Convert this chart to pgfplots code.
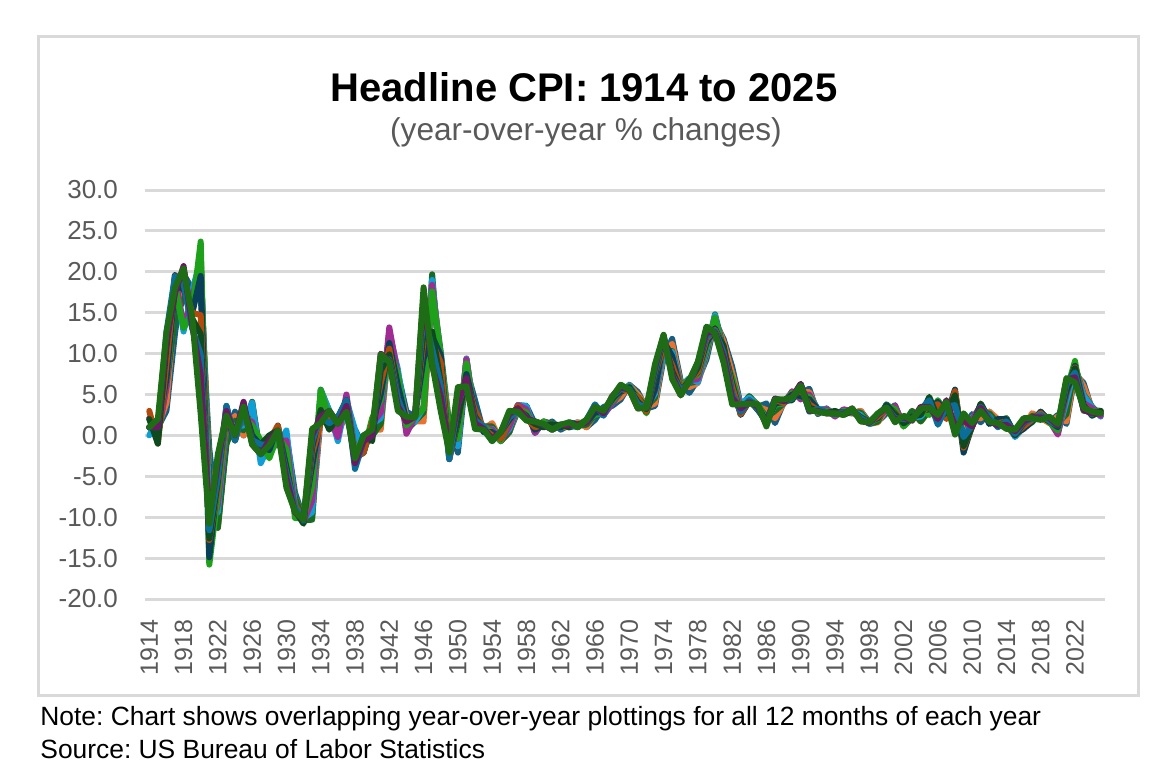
\documentclass[border=0pt]{standalone}
\usepackage{fontspec}
\setmainfont{Liberation Sans}
\usepackage{pgfplots}
\usepackage{pgfplotstable}
\pgfplotsset{compat=1.18}
\frenchspacing

\definecolor{gridgray}{HTML}{D9D9D9}
\definecolor{labelgray}{HTML}{595959}
\definecolor{cJan}{HTML}{156082}
\definecolor{cFeb}{HTML}{E97132}
\definecolor{cMar}{HTML}{196B24}
\definecolor{cApr}{HTML}{0F9ED5}
\definecolor{cMay}{HTML}{A02B93}
\definecolor{cJun}{HTML}{1FA01A}
\definecolor{cJul}{HTML}{0A3F58}
\definecolor{cAug}{HTML}{B24A0E}
\definecolor{cSep}{HTML}{0E4A1E}
\definecolor{cOct}{HTML}{0B6E99}
\definecolor{cNov}{HTML}{6C1862}
\definecolor{cDec}{HTML}{1E6C16}

% year-over-year % change, one column per month
\pgfplotstableread{
yr   m1    m2    m3    m4    m5    m6    m7    m8    m9    m10   m11   m12
1914 2.0   1.0   1.0   0.0   2.1   1.0   1.0   3.0   2.0   1.0   1.0   1.0
1915 1.0   1.0   0.0   2.0   0.0   1.0   1.0   -1.0  -1.0  1.0   1.0   2.0
1916 3.0   4.0   6.1   6.0   5.9   6.9   6.9   8.8   10.8  12.6  11.5  12.6
1917 12.5  15.4  14.3  18.9  19.6  18.3  18.3  19.0  19.6  19.5  17.4  18.1
1918 19.7  17.5  16.7  12.7  13.3  13.1  17.9  18.5  18.0  18.5  20.7  20.4
1919 17.9  14.9  17.1  17.6  16.5  15.0  14.9  15.0  14.3  13.1  13.5  14.5
1920 17.0  20.4  20.1  21.6  21.9  23.7  19.5  14.7  12.4  9.9   7.4   2.6
1921 -1.6  -4.2  -5.1  -9.3  -12.4 -15.8 -14.9 -12.8 -12.6 -11.6 -10.3 -10.8
1922 -11.1 -11.3 -11.3 -9.4  -8.5  -7.3  -5.3  -6.3  -5.7  -5.1  -3.4  -2.3
1923 -0.6  -0.6  -1.1  1.2   1.2   1.8   2.4   3.0   3.6   3.6   3.0   2.4
1924 2.9   2.4   1.8   1.2   0.6   0.0   -0.6  -0.6  -0.6  -0.6  0.0   0.0
1925 0.0   0.0   0.6   1.2   1.8   2.3   3.5   3.5   3.5   2.9   4.1   3.5
1926 3.5   4.1   4.1   4.0   1.7   1.2   0.0   -0.6  -0.6  -0.6  -1.1  -1.1
1927 -2.2  -2.8  -2.8  -3.4  -2.3  -0.6  -1.2  -1.1  -1.1  -1.1  -2.3  -2.3
1928 -1.2  -1.2  -1.7  -1.2  -1.1  -2.8  -1.8  -0.6  0.0   -1.2  -0.6  -1.2
1929 -1.2  0.0   -0.6  -1.2  -1.2  0.0   1.2   1.2   0.6   0.6   0.6   0.6
1930 0.0   -0.6  -0.6  0.6   -0.6  -1.7  -4.0  -4.6  -4.0  -4.6  -5.2  -6.4
1931 -7.0  -7.6  -7.6  -8.7  -9.3  -10.1 -9.0  -8.5  -9.2  -8.8  -9.4  -9.3
1932 -10.1 -10.2 -10.4 -10.1 -10.5 -10.1 -9.9  -10.6 -10.8 -10.4 -10.3 -10.3
1933 -9.8  -9.8  -10.3 -9.4  -8.0  -6.2  -3.7  -2.2  -1.5  -0.8  0.0   0.8
1934 2.3   3.1   5.6   5.5   4.7   5.5   2.3   1.5   3.1   2.3   2.3   1.5
1935 3.0   2.3   3.0   3.0   2.2   2.2   2.2   2.2   0.7   1.5   3.0   3.0
1936 1.5   0.7   0.0   -0.7  -0.2  1.5   1.5   2.2   2.2   2.2   1.4   1.4
1937 2.2   2.2   3.6   4.3   5.0   4.3   4.3   3.6   4.3   4.3   3.6   2.9
1938 0.7   0.0   -0.7  0.7   -2.0  -2.1  -2.8  -2.8  -3.4  -4.1  -3.4  -2.8
1939 -1.4  -1.4  -0.7  -2.1  -1.4  -2.1  -2.1  -2.1  0.0   -0.7  -0.7  0.0
1940 0.0   0.7   0.0   1.4   1.4   2.1   1.4   1.4   -0.7  0.0   0.0   0.7
1941 1.4   0.7   1.4   2.1   2.8   4.3   5.0   6.4   7.9   9.3   10.0  9.9
1942 11.3  12.0  12.6  12.5  13.2  10.7  11.3  10.6  9.9   9.3   9.1   9.0
1943 7.6   6.8   7.4   8.1   7.4   7.4   6.1   4.5   4.5   4.5   3.6   3.0
1944 2.9   2.3   0.6   1.2   0.2   1.2   1.8   1.7   1.7   1.7   1.7   2.3
1945 2.3   1.7   1.7   1.7   2.3   2.3   2.3   2.3   2.3   2.3   2.3   2.2
1946 2.2   1.7   2.8   3.4   3.4   3.3   9.4   11.6  12.7  14.9  17.0  18.1
1947 18.1  18.7  19.7  19.0  18.4  17.6  12.1  11.4  12.7  10.6  8.5   8.8
1948 10.2  9.3   6.8   8.7   9.3   9.9   9.8   8.9   6.5   6.1   4.8   3.0
1949 1.3   1.3   1.7   0.4   -0.4  0.4   -2.9  -2.9  -2.5  -2.9  -1.7  -2.1
1950 -2.1  -1.3  -0.8  -1.3  -0.4  -0.4  1.7   2.1   2.1   3.8   3.8   5.9
1951 8.1   9.4   9.3   9.4   9.3   8.8   7.5   6.6   7.0   6.6   7.0   6.0
1952 4.3   2.3   1.9   2.3   1.9   2.3   3.1   3.1   2.3   1.9   1.5   0.8
1953 0.4   0.8   1.1   0.8   1.1   1.1   0.4   0.8   0.8   1.1   0.8   0.7
1954 1.1   1.5   1.1   0.8   0.7   0.4   0.4   0.0   -0.4  -0.7  -0.4  -0.7
1955 -0.7  -0.7  -0.7  -0.4  -0.7  -0.7  -0.4  -0.4  0.4   0.4   0.4   0.4
1956 0.4   0.4   0.4   0.8   1.1   1.9   2.2   1.9   1.9   2.2   2.6   3.0
1957 3.0   3.4   3.7   3.7   3.7   3.3   3.3   3.6   3.3   2.9   3.3   2.9
1958 3.6   3.2   3.6   3.6   3.2   2.8   2.4   2.1   2.1   2.1   2.1   1.8
1959 1.4   1.0   0.3   0.3   0.3   0.7   0.7   1.0   1.4   1.7   1.7   1.7
1960 1.0   1.7   1.7   1.7   1.7   1.7   1.3   1.3   1.0   1.3   1.3   1.4
1961 1.7   1.4   1.4   1.0   1.0   0.7   1.3   1.0   1.3   0.7   0.7   0.7
1962 0.7   1.0   1.0   1.3   1.3   1.3   1.0   1.3   1.3   1.3   1.3   1.3
1963 1.3   1.0   1.3   1.0   1.0   1.3   1.6   1.3   1.0   1.3   1.3   1.6
1964 1.6   1.6   1.3   1.3   1.3   1.3   1.3   1.0   1.3   1.0   1.3   1.0
1965 1.0   1.0   1.3   1.6   1.6   1.9   1.6   1.9   1.6   1.9   1.6   1.9
1966 1.9   2.6   2.5   2.8   2.8   2.5   2.8   3.5   3.5   3.8   3.5   3.5
1967 3.5   2.8   2.8   2.5   2.5   2.8   2.8   2.8   2.8   2.4   2.7   3.0
1968 3.6   4.0   3.9   3.9   3.9   4.2   4.5   4.4   4.4   4.7   4.8   4.7
1969 4.4   4.7   5.3   5.5   5.5   5.5   5.4   5.7   5.7   5.7   5.9   6.2
1970 6.2   6.1   5.8   6.1   6.0   6.0   5.9   5.4   5.7   5.7   5.6   5.6
1971 5.3   5.0   4.7   4.2   4.4   4.6   4.4   4.6   4.1   3.8   3.3   3.3
1972 3.3   3.5   3.5   3.5   3.2   2.7   2.9   2.9   3.2   3.4   3.4   3.4
1973 3.6   3.9   4.6   5.1   5.5   5.9   5.7   7.4   7.4   7.8   8.3   8.7
1974 9.4   10.0  10.4  10.1  10.7  10.9  11.5  10.9  11.9  12.1  12.2  12.3
1975 11.8  11.2  10.3  10.2  9.5   9.4   9.7   8.6   7.9   7.4   7.4   6.9
1976 6.7   6.3   6.1   6.0   6.2   5.9   5.4   5.7   5.5   5.5   4.9   4.9
1977 5.2   5.9   6.4   7.0   6.7   6.9   6.8   6.6   6.6   6.4   6.7   6.7
1978 6.8   6.4   6.6   6.5   6.9   7.4   7.7   7.8   8.3   8.9   8.9   9.0
1979 9.3   9.9   10.1  10.5  10.9  10.9  11.3  11.8  12.2  12.1  12.6  13.3
1980 13.9  14.2  14.8  14.7  14.4  14.4  13.1  12.9  12.6  12.8  12.6  12.5
1981 11.8  11.4  10.5  10.0  9.8   9.6   10.8  10.8  11.0  10.1  9.6   8.9
1982 8.4   7.6   6.8   6.5   6.7   7.1   6.4   5.9   5.0   5.1   4.6   3.8
1983 3.7   3.5   3.6   3.9   3.5   2.6   2.5   2.6   2.9   2.9   3.3   3.8
1984 4.2   4.6   4.8   4.6   4.2   4.2   4.2   4.3   4.3   4.3   4.1   3.9
1985 3.5   3.5   3.7   3.7   3.8   3.8   3.6   3.3   3.1   3.2   3.5   3.8
1986 3.9   3.1   2.2   1.6   1.5   1.8   1.6   1.6   1.8   1.5   1.3   1.1
1987 1.5   2.1   3.0   3.8   3.9   3.7   3.9   4.3   4.4   4.5   4.5   4.4
1988 4.0   3.9   3.9   3.9   3.9   4.0   4.1   4.0   4.2   4.2   4.2   4.4
1989 4.7   4.8   5.0   5.1   5.4   5.2   5.0   4.7   4.3   4.5   4.7   4.6
1990 5.2   5.3   5.2   4.7   4.4   4.7   4.8   5.6   6.2   6.3   6.3   6.1
1991 5.7   5.3   4.9   4.9   5.0   4.7   4.4   3.8   3.4   2.9   3.0   3.1
1992 2.6   2.8   3.2   3.2   3.0   3.1   3.2   3.1   3.0   3.2   3.0   2.9
1993 3.3   3.2   3.1   3.2   3.2   3.0   2.8   2.8   2.7   2.8   2.7   2.7
1994 2.5   2.5   2.5   2.4   2.3   2.5   2.8   2.9   3.0   2.6   2.7   2.7
1995 2.8   2.9   2.9   3.1   3.2   3.0   2.8   2.6   2.5   2.8   2.6   2.5
1996 2.7   2.7   2.8   2.9   2.9   2.8   3.0   2.9   3.0   3.0   3.3   3.3
1997 3.0   3.0   2.8   2.5   2.2   2.3   2.2   2.2   2.2   2.1   1.8   1.7
1998 1.6   1.4   1.4   1.4   1.7   1.7   1.7   1.6   1.5   1.5   1.5   1.6
1999 1.7   1.6   1.7   2.3   2.1   2.0   2.1   2.3   2.6   2.6   2.6   2.7
2000 2.7   3.2   3.8   3.1   3.2   3.7   3.7   3.4   3.5   3.4   3.4   3.4
2001 3.7   3.5   2.9   3.3   3.6   3.2   2.7   2.7   2.6   2.1   1.9   1.6
2002 1.1   1.1   1.5   1.6   1.2   1.1   1.5   1.8   1.5   2.0   2.2   2.4
2003 2.6   3.0   3.0   2.2   2.1   2.1   2.1   2.2   2.3   2.0   1.8   1.9
2004 1.9   1.7   1.7   2.3   3.1   3.3   3.0   2.7   2.5   3.2   3.5   3.3
2005 3.0   3.0   3.1   3.5   2.8   2.5   3.2   3.6   4.7   4.3   3.5   3.4
2006 4.0   3.6   3.4   3.5   4.2   4.3   4.1   3.8   2.1   1.3   2.0   2.5
2007 2.1   2.4   2.8   2.6   2.7   2.7   2.4   2.0   2.8   3.5   4.3   4.1
2008 4.3   4.0   4.0   3.9   4.2   5.0   5.6   5.4   4.9   3.7   1.1   0.1
2009 0.0   0.2   -0.4  -0.7  -1.3  -1.4  -2.1  -1.5  -1.3  -0.2  1.8   2.7
2010 2.6   2.1   2.3   2.2   2.0   1.1   1.2   1.1   1.1   1.2   1.1   1.5
2011 1.6   2.1   2.7   3.2   3.6   3.6   3.6   3.8   3.9   3.5   3.4   3.0
2012 2.9   2.9   2.7   2.3   1.7   1.7   1.4   1.7   2.0   2.2   1.8   1.7
2013 1.6   2.0   1.5   1.1   1.4   1.8   2.0   1.5   1.2   1.0   1.2   1.5
2014 1.6   1.1   1.5   2.0   2.1   2.1   2.0   1.7   1.7   1.7   1.3   0.8
2015 -0.1  0.0   -0.1  -0.2  0.0   0.1   0.2   0.2   0.0   0.2   0.5   0.7
2016 1.4   1.0   0.9   1.1   1.0   1.0   0.8   1.1   1.5   1.6   1.7   2.1
2017 2.5   2.7   2.4   2.2   1.9   1.6   1.7   1.9   2.2   2.0   2.2   2.1
2018 2.1   2.2   2.4   2.5   2.8   2.9   2.9   2.7   2.3   2.5   2.2   1.9
2019 1.6   1.5   1.9   2.0   1.8   1.6   1.8   1.7   1.7   1.8   2.1   2.3
2020 2.5   2.3   1.5   0.3   0.1   0.6   1.0   1.3   1.4   1.2   1.2   1.4
2021 1.4   1.7   2.6   4.2   5.0   5.4   5.4   5.3   5.4   6.2   6.8   7.0
2022 7.5   7.9   8.5   8.3   8.6   9.1   8.5   8.3   8.2   7.7   7.1   6.5
2023 6.4   6.0   5.0   4.9   4.0   3.0   3.2   3.7   3.7   3.2   3.1   3.4
2024 3.1   3.2   3.5   3.4   3.3   3.0   2.9   2.5   2.4   2.6   2.7   2.9
2025 3.0   2.8   2.4   2.3   2.4   2.7   2.7   2.9   3.0   nan   2.7   2.7
}\cpi

\begin{document}
\begin{tikzpicture}
% canvas: 1 px of the reference = 0.5pt, origin at top left
\path[use as bounding box] (0,0) rectangle (584pt,-390pt);
\draw[gridgray, line width=1.5pt] (19pt,-18.5pt) rectangle (569pt,-347.5pt);

\node[anchor=base, font=\fontsize{20}{24}\selectfont\bfseries] at (292pt,-51pt) {Headline CPI: 1914 to 2025};
\node[anchor=base, text=labelgray, font=\fontsize{15.8}{19}\selectfont] at (293pt,-70.5pt) {(year-over-year \% changes)};

\begin{axis}[
  at={(72.5pt,-299.5pt)}, anchor=south west,
  scale only axis, width=480pt, height=204.5pt,
  xmin=1913.5, xmax=2025.5, ymin=-20, ymax=30,
  xtick={1914,1918,...,2022},
  ytick={-20,-15,...,30},
  axis line style={draw=none},
  major tick length=0pt,
  ymajorgrids,
  grid style={draw=gridgray, line width=1.5pt},
  /pgf/number format/assume math mode=true,
  tick label style={text=labelgray},
  y tick label style={font=\fontsize{13}{15}\selectfont, xshift=-10pt,
    /pgf/number format/.cd, fixed, fixed zerofill, precision=1},
  x tick label style={font=\fontsize{12.5}{14}\selectfont, rotate=90, anchor=east, inner xsep=10pt,
    /pgf/number format/.cd, 1000 sep={}},
  every axis plot/.append style={line width=3pt, line join=round, line cap=round},
]
\addplot[cJan] table[x=yr, y=m1] {\cpi};
\addplot[cFeb] table[x=yr, y=m2] {\cpi};
\addplot[cMar] table[x=yr, y=m3] {\cpi};
\addplot[cApr] table[x=yr, y=m4] {\cpi};
\addplot[cMay] table[x=yr, y=m5] {\cpi};
\addplot[cJun] table[x=yr, y=m6] {\cpi};
\addplot[cJul] table[x=yr, y=m7] {\cpi};
\addplot[cAug] table[x=yr, y=m8] {\cpi};
\addplot[cSep] table[x=yr, y=m9] {\cpi};
\addplot[cOct] table[x=yr, y=m10] {\cpi};
\addplot[cNov] table[x=yr, y=m11] {\cpi};
\addplot[cDec] table[x=yr, y=m12] {\cpi};
\end{axis}

\node[anchor=base west, inner sep=0pt, font=\fontsize{13.2}{15}\selectfont] at (20pt,-362.5pt) {Note: Chart shows overlapping year-over-year plottings for all 12 months of each year};
\node[anchor=base west, inner sep=0pt, font=\fontsize{13.2}{15}\selectfont] at (20pt,-379pt) {Source: US Bureau of Labor Statistics};
\end{tikzpicture}
\end{document}
